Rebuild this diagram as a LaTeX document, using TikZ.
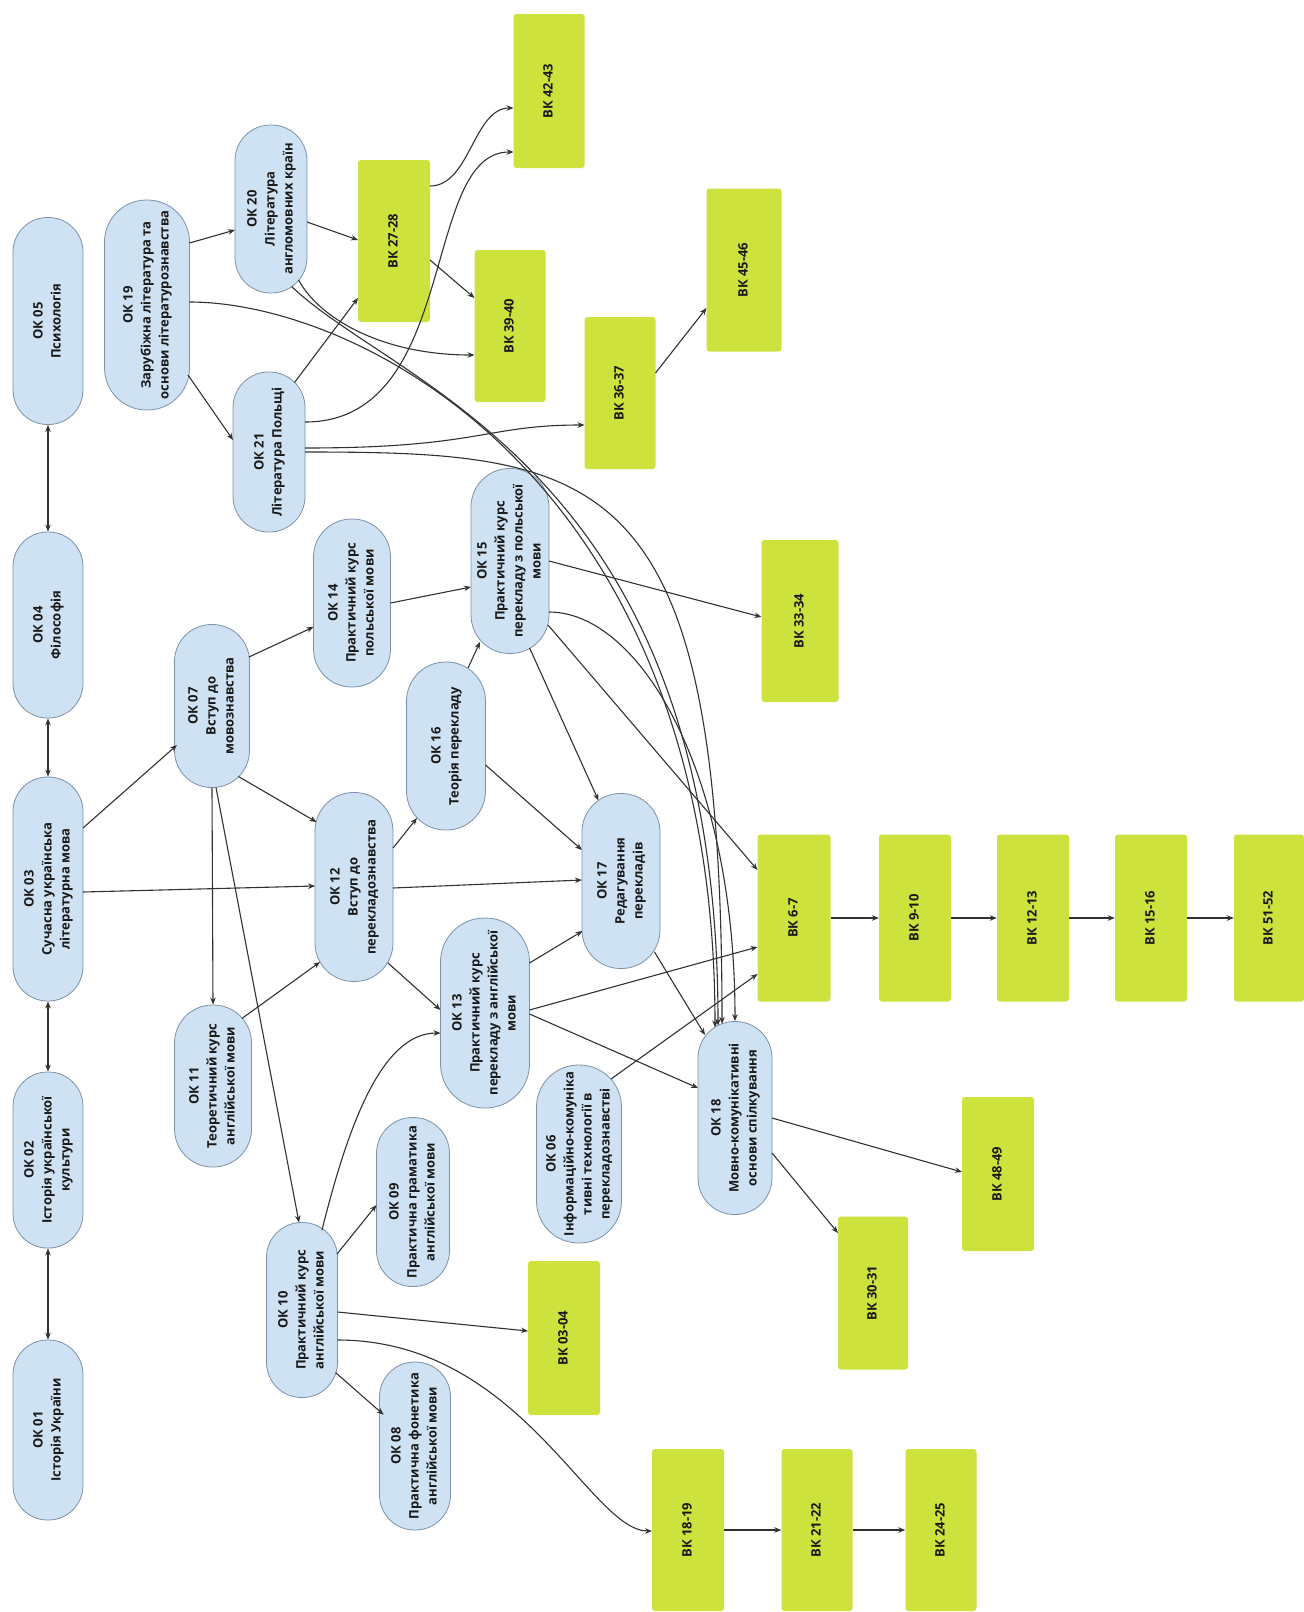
\documentclass[tikz,border=0pt]{standalone}
\usepackage{fontspec}
\setmainfont{Open Sans}
\usepackage{graphicx}
\usetikzlibrary{arrows.meta,calc}
\definecolor{okfill}{RGB}{207,226,243}
\definecolor{okline}{RGB}{125,145,168}
\definecolor{vkfill}{RGB}{206,226,62}
\definecolor{arr}{RGB}{50,50,50}
\definecolor{txt}{RGB}{25,25,25}
\newcommand{\rotlab}[1]{\rotatebox{90}{\begin{tabular}{@{}c@{}}#1\end{tabular}}}
\begin{document}
\begin{tikzpicture}[x=1pt,y=-1pt,
  ok/.style={draw=okline, line width=0.8pt, fill=okfill, inner sep=0pt, text=txt, font=\fontsize{13}{18}\selectfont\bfseries},
  vk/.style={fill=vkfill, rounded corners=3pt, inner sep=0pt, text=txt, font=\fontsize{13}{18}\selectfont\bfseries},
  edge/.style={draw=arr, line width=1.1pt, -{Stealth[length=7pt,width=5.5pt]}},
  dedge/.style={draw=arr, line width=1.1pt, {Stealth[length=7pt,width=5.5pt]}-{Stealth[length=7pt,width=5.5pt]}}]
\fill[white] (0,0) rectangle (1304,1612);
\useasboundingbox (0,0) rectangle (1304,1612);

% OK column 1
\node[ok, minimum width=70pt, minimum height=180pt, rounded corners=34.5pt] (OK01) at (48,1430) {\rotlab{ОК 01\\Історія України}};
\node[ok, minimum width=70pt, minimum height=176pt, rounded corners=34.5pt] (OK02) at (48,1160) {\rotlab{ОК 02\\Історія української\\культури}};
\node[ok, minimum width=70pt, minimum height=224pt, rounded corners=34.5pt] (OK03) at (48,889) {\rotlab{ОК 03\\Сучасна українська\\літературна мова}};
\node[ok, minimum width=70pt, minimum height=186pt, rounded corners=34.5pt] (OK04) at (48,625) {\rotlab{ОК 04\\Філософія}};
\node[ok, minimum width=70pt, minimum height=207pt, rounded corners=34.5pt] (OK05) at (48,321) {\rotlab{ОК 05\\Психологія}};

% OK others
\node[ok, minimum width=85pt, minimum height=210pt, rounded corners=42pt] (OK19) at (147,305) {\rotlab{ОК 19\\Зарубіжна література та\\основи літературознавства}};
\node[ok, minimum width=72pt, minimum height=168pt, rounded corners=35.5pt] (OK20) at (271,209) {\rotlab{ОК 20\\Література\\англомовних країн}};
\node[ok, minimum width=72pt, minimum height=160pt, rounded corners=35.5pt] (OK21) at (269,452) {\rotlab{ОК 21\\Література Польщі}};
\node[ok, minimum width=75pt, minimum height=163pt, rounded corners=37pt] (OK07) at (212,706) {\rotlab{ОК 07\\Вступ до\\мовознавства}};
\node[ok, minimum width=77pt, minimum height=168pt, rounded corners=38pt] (OK14) at (352,603) {\rotlab{ОК 14\\Практичний курс\\польської мови}};
\node[ok, minimum width=78pt, minimum height=189pt, rounded corners=38.5pt] (OK12) at (354,887) {\rotlab{ОК 12\\Вступ до\\перекладознавства}};
\node[ok, minimum width=79pt, minimum height=168pt, rounded corners=39pt] (OK16) at (446,746) {\rotlab{ОК 16\\Теорія перекладу}};
\node[ok, minimum width=78pt, minimum height=185pt, rounded corners=38.5pt] (OK15) at (510,561) {\rotlab{ОК 15\\Практичний курс\\перекладу з польської\\мови}};
\node[ok, minimum width=89pt, minimum height=190pt, rounded corners=44pt] (OK13) at (485,1013) {\rotlab{ОК 13\\Практичний курс\\перекладу з англійської\\мови}};
\node[ok, minimum width=78pt, minimum height=175pt, rounded corners=38.5pt] (OK17) at (621,881) {\rotlab{ОК 17\\Редагування\\перекладів}};
\node[ok, minimum width=85pt, minimum height=178pt, rounded corners=42pt] (OK06) at (579,1154) {\rotlab{ОК 06\\Інформаційно-комуніка\\тивні технології в\\перекладознавстві}};
\node[ok, minimum width=74pt, minimum height=193pt, rounded corners=36.5pt] (OK18) at (735,1118) {\rotlab{ОК 18\\Мовно-комунікативні\\основи спілкування}};
\node[ok, minimum width=77pt, minimum height=162pt, rounded corners=38pt] (OK11) at (213,1086) {\rotlab{ОК 11\\Теоретичний курс\\англійської мови}};
\node[ok, minimum width=71pt, minimum height=175pt, rounded corners=35pt] (OK10) at (302,1310) {\rotlab{ОК 10\\Практичний курс\\англійської мови}};
\node[ok, minimum width=73pt, minimum height=169pt, rounded corners=36pt] (OK09) at (413,1202) {\rotlab{ОК 09\\Практична граматика\\англійської мови}};
\node[ok, minimum width=71pt, minimum height=168pt, rounded corners=35pt] (OK08) at (415,1446) {\rotlab{ОК 08\\Практична фонетика\\англійської мови}};

% VK nodes
\node[vk, minimum width=72pt, minimum height=162pt] (VK2728) at (394,241) {\rotlab{ВК 27-28}};
\node[vk, minimum width=71pt, minimum height=154pt] (VK4243) at (549,91) {\rotlab{ВК 42-43}};
\node[vk, minimum width=71pt, minimum height=152pt] (VK3940) at (510,326) {\rotlab{ВК 39-40}};
\node[vk, minimum width=71pt, minimum height=152pt] (VK3637) at (620,393) {\rotlab{ВК 36-37}};
\node[vk, minimum width=75pt, minimum height=163pt] (VK4546) at (744,270) {\rotlab{ВК 45-46}};
\node[vk, minimum width=77pt, minimum height=162pt] (VK3334) at (800,621) {\rotlab{ВК 33-34}};
\node[vk, minimum width=73pt, minimum height=167pt] (VK67) at (794,918) {\rotlab{ВК 6-7}};
\node[vk, minimum width=72pt, minimum height=167pt] (VK910) at (915,918) {\rotlab{ВК 9-10}};
\node[vk, minimum width=72pt, minimum height=167pt] (VK1213) at (1033,918) {\rotlab{ВК 12-13}};
\node[vk, minimum width=72pt, minimum height=167pt] (VK1516) at (1151,918) {\rotlab{ВК 15-16}};
\node[vk, minimum width=70pt, minimum height=167pt] (VK5152) at (1269,918) {\rotlab{ВК 51-52}};
\node[vk, minimum width=72pt, minimum height=154pt] (VK4849) at (998,1174) {\rotlab{ВК 48-49}};
\node[vk, minimum width=70pt, minimum height=153pt] (VK3031) at (873,1293) {\rotlab{ВК 30-31}};
\node[vk, minimum width=72pt, minimum height=154pt] (VK0304) at (564,1338) {\rotlab{ВК 03-04}};
\node[vk, minimum width=72pt, minimum height=162pt] (VK1819) at (688,1530) {\rotlab{ВК 18-19}};
\node[vk, minimum width=71pt, minimum height=162pt] (VK2122) at (817,1530) {\rotlab{ВК 21-22}};
\node[vk, minimum width=71pt, minimum height=162pt] (VK2425) at (941,1530) {\rotlab{ВК 24-25}};

% double arrows column 1
\draw[dedge] (OK02.south) -- (OK01.north);
\draw[dedge] (OK03.south) -- (OK02.north);
\draw[dedge] (OK04.south) -- (OK03.north);
\draw[dedge] (OK05.south) -- (OK04.north);

% straight edges
\draw[edge] ($(OK03.center)+(35,-61)$) -- ($(OK07.center)+(-35,39)$);
\draw[edge] ($(OK03.center)+(35,3)$) -- ($(OK12.center)+(-39,-1)$);
\draw[edge] ($(OK07.center)+(37,-49)$) -- ($(OK14.center)+(-38.5,24)$);
\draw[edge] ($(OK07.center)+(26.5,70.5)$) -- ($(OK12.center)+(-37.5,-65)$);
\draw[edge] (OK07.south) -- (OK11.north);
\draw[edge] ($(OK07.center)+(4,81.5)$) -- ($(OK10.center)+(-3,-87.5)$);
\draw[edge] ($(OK11.center)+(29,-67.6)$) -- ($(OK12.center)+(-34,75)$);
\draw[edge] ($(OK12.center)+(39,-39)$) -- ($(OK16.center)+(-29,72)$);
\draw[edge] ($(OK12.center)+(34,76)$) -- ($(OK13.center)+(-44.5,-3)$);
\draw[edge] ($(OK12.center)+(39,1)$) -- ($(OK17.center)+(-39,-1)$);
\draw[edge] ($(OK14.center)+(38.5,0)$) -- ($(OK15.center)+(-39,26)$);
\draw[edge] ($(OK16.center)+(22,-78)$) -- ($(OK15.center)+(-30,81)$);
\draw[edge] ($(OK16.center)+(39.5,19)$) -- ($(OK17.center)+(-39,-31)$);
\draw[edge] ($(OK15.center)+(19.6,87)$) -- ($(OK17.center)+(-22.5,-80.5)$);
\draw[edge] ($(OK15.center)+(38,64)$) -- ($(VK67.center)+(-36.5,-48)$);
\draw[edge] ($(OK15.center)+(39,0)$) -- ($(VK3334.center)+(-38.5,-4)$);
\draw[edge] ($(OK13.center)+(44.5,-50)$) -- ($(OK17.center)+(-38.5,50)$);
\draw[edge] ($(OK13.center)+(44.5,-3)$) -- ($(VK67.center)+(-36.5,29)$);
\draw[edge] ($(OK13.center)+(44.5,1)$) -- ($(OK18.center)+(-37,-30)$);
\draw[edge] ($(OK06.center)+(32,-75)$) -- ($(VK67.center)+(-36.5,56)$);
\draw[edge] ($(OK17.center)+(33.5,71)$) -- ($(OK18.center)+(-30,-83)$);
\draw[edge] ($(OK18.center)+(37,0)$) -- ($(VK4849.center)+(-36,-2)$);
\draw[edge] ($(OK18.center)+(37,35)$) -- ($(VK3031.center)+(-35,-60)$);
\draw[edge] ($(OK10.center)+(35,-56)$) -- ($(OK09.center)+(-36.5,3)$);
\draw[edge] ($(OK10.center)+(35.5,2)$) -- ($(VK0304.center)+(-36,-7)$);
\draw[edge] ($(OK10.center)+(33.5,62.5)$) -- ($(OK08.center)+(-31.3,-31.2)$);
\draw[edge] ($(OK19.center)+(42.5,-62)$) -- ($(OK20.center)+(-36,21)$);
\draw[edge] ($(OK19.center)+(41,70)$) -- ($(OK21.center)+(-36,-12)$);
\draw[edge] ($(OK20.center)+(36,13)$) -- ($(VK2728.center)+(-36,-1)$);
\draw[edge] ($(OK21.center)+(25.5,-69.5)$) -- ($(VK2728.center)+(-36,57)$);
\draw[edge] ($(VK2728.center)+(36,-55)$) .. controls +(40,0) and +(-40,0) .. ($(VK4243.center)+(-35.5,17)$);
\draw[edge] ($(VK2728.center)+(36,19)$) -- ($(VK3940.center)+(-35.5,-28)$);
\draw[edge] ($(VK3637.center)+(35.5,-20)$) -- ($(VK4546.center)+(-37.5,38)$);

% chains
\draw[edge] (VK67.east) -- (VK910.west);
\draw[edge] (VK910.east) -- (VK1213.west);
\draw[edge] (VK1213.east) -- (VK1516.west);
\draw[edge] (VK1516.east) -- (VK5152.west);
\draw[edge] (VK1819.east) -- (VK2122.west);
\draw[edge] (VK2122.east) -- (VK2425.west);

% curves
\draw[edge] ($(OK15.center)+(39,51)$) .. controls +(90,0) and +(0,-250) .. (OK18.north);
\draw[edge] ($(OK19.center)+(42.5,-3)$) .. controls +(170,0) and +(0,-547) .. ($(OK18.center)+(-20,-90.6)$);
\draw[edge] ($(OK20.center)+(20.6,77.5)$) .. controls +(108,103) and +(0,-556) .. ($(OK18.center)+(-17,-92.4)$);
\draw[edge] ($(OK21.center)+(36,0)$) .. controls +(300,0) and +(0,-554) .. ($(OK18.center)+(-13,-94.1)$);
\draw[edge] ($(OK21.center)+(36,-30)$) .. controls +(155,0) and +(-93,0) .. ($(VK4243.center)+(-35.5,61)$);
\draw[edge] ($(OK21.center)+(36,-4)$) .. controls +(175,0) and +(-100,0) .. ($(VK3637.center)+(-35.5,32)$);
\draw[edge] ($(OK20.center)+(27.6,71.1)$) .. controls +(22,40) and +(-90,0) .. ($(VK3940.center)+(-35.5,29)$);
\draw[edge] ($(OK10.center)+(20,-80)$) .. controls +(25,-100) and +(-60,0) .. ($(OK13.center)+(-44.5,20)$);
\draw[edge] ($(OK10.center)+(35.5,30)$) .. controls +(182.5,0) and +(-62,0) .. ($(VK1819.center)+(-36,1)$);
\end{tikzpicture}
\end{document}
